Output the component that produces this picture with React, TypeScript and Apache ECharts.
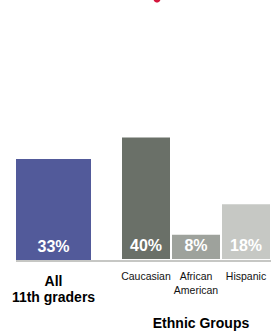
import React, { useEffect, useRef } from "react";
import * as echarts from "echarts";

const allLabel = ["All\n11th graders"];
const allValues = [33];
const ethnicLabels = ["Caucasian", "African\nAmerican", "Hispanic"];
const ethnicValues = [40, 8, 18];
const ethnicColors = ["#6a7068", "#9ea29c", "#c6c8c4"];
const groupTitle = "Ethnic Groups";
const FONT = "'Liberation Sans', Arial, Helvetica, sans-serif";

export default function App() {
  const ref = useRef<HTMLDivElement>(null);
  useEffect(() => {
    if (!ref.current) return;
    const chart = echarts.init(ref.current, null, { renderer: "svg" });
    const labelStyle = {
      show: true,
      position: "insideBottom",
      distance: 6,
      color: "#ffffff",
      fontFamily: FONT,
      fontWeight: "bold",
      fontSize: 16,
      formatter: "{c}%",
    };
    chart.setOption({
      animation: false,
      grid: [
        { left: 16, width: 75, bottom: 71, top: 107 },
        { left: 121, width: 156, bottom: 71, top: 107 },
      ],
      xAxis: [
        {
          type: "category",
          gridIndex: 0,
          data: allLabel,
          axisLine: { show: false },
          axisTick: { show: false },
          axisLabel: {
            margin: 13,
            color: "#000",
            fontFamily: FONT,
            fontWeight: "bold",
            fontSize: 14,
            lineHeight: 16,
          },
        },
        {
          type: "category",
          gridIndex: 1,
          data: ethnicLabels,
          axisLine: { show: false },
          axisTick: { show: false },
          axisLabel: {
            margin: 10,
            color: "#111",
            fontFamily: FONT,
            fontSize: 10.5,
            lineHeight: 14,
            interval: 0,
          },
          name: groupTitle,
          nameLocation: "middle",
          nameGap: 57,
          nameTextStyle: {
            color: "#000",
            fontFamily: FONT,
            fontWeight: "bold",
            fontSize: 14,
            padding: [0, 0, 0, 10],
          },
        },
      ],
      yAxis: [
        { type: "value", gridIndex: 0, min: 0, max: 50, show: false },
        { type: "value", gridIndex: 1, min: 0, max: 50, show: false },
      ],
      series: [
        {
          type: "bar",
          xAxisIndex: 0,
          yAxisIndex: 0,
          data: allValues,
          barWidth: 75,
          itemStyle: { color: "#525a9a" },
          label: labelStyle,
        },
        {
          type: "bar",
          xAxisIndex: 1,
          yAxisIndex: 1,
          data: ethnicValues.map((v, i) => ({ value: v, itemStyle: { color: ethnicColors[i] } })),
          barWidth: 48,
          label: labelStyle,
        },
      ],
      graphic: [
        { type: "rect", shape: { x: 16, y: 260, width: 260, height: 2 }, style: { fill: "#c6c7c4" }, z: 0 },
        { type: "circle", shape: { cx: 157, cy: -1, r: 3.5 }, style: { fill: "#d4163c" } },
      ],
    });
    return () => chart.dispose();
  }, []);
  return <div ref={ref} style={{ width: 271, height: 331, position: "absolute", left: 0, top: 0 }} />;
}
